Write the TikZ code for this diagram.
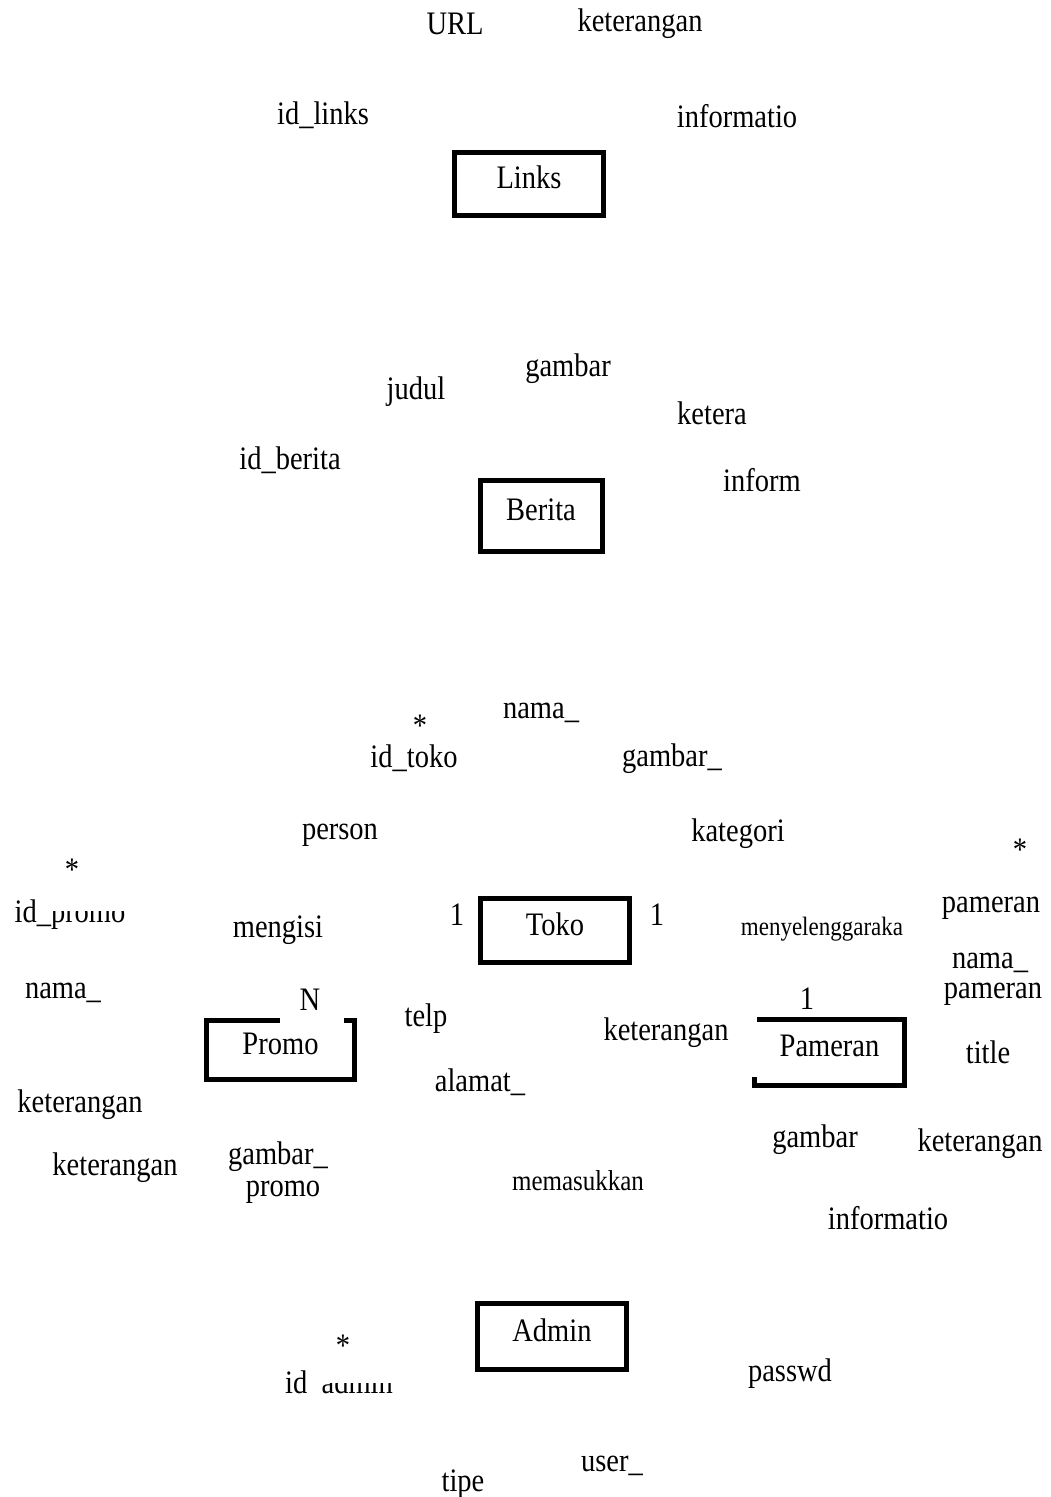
\documentclass[tikz,border=0pt]{standalone}
\usepackage{fontspec}
\usepackage{graphicx}
\setmainfont{Liberation Serif}
\newcommand{\vstr}[1]{\scalebox{1}[1.15]{#1}}
\begin{document}
\begin{tikzpicture}[x=1pt,y=-1pt,
  lbl/.style={anchor=base,inner sep=0pt,font=\fontsize{28.5}{34}\selectfont},
  smalllbl/.style={anchor=base,inner sep=0pt,font=\fontsize{23}{28}\selectfont},
  midlbl/.style={anchor=base,inner sep=0pt,font=\fontsize{25}{30}\selectfont},
  entity/.style={draw,line width=5pt,inner sep=0pt,font=\fontsize{28.5}{34}\selectfont,text height=19pt,text depth=10pt},
  openentity/.style={inner sep=0pt,font=\fontsize{28.5}{34}\selectfont,text height=19pt,text depth=10pt},
  border/.style={line width=5pt,line join=miter,line cap=butt}]
\useasboundingbox (0,0) rectangle (1051,1497);
\fill[white] (0,0) rectangle (1051,1497);

% ---------------- Links ----------------
\node[lbl] (url) at (455,34) {\vstr{URL}};
\node[lbl] (ketlinks) at (640,31) {\vstr{keterangan}};
\node[lbl] (idlinks) at (323,124) {\vstr{id\_links}};
\node[lbl] (infolinks) at (737,127) {\vstr{informatio}};
\node[entity,minimum width=149pt,minimum height=63pt] (links) at (529,184) {\vstr{Links}};

% ---------------- Berita ----------------
\node[lbl] (gambarberita) at (568,376) {\vstr{gambar}};
\node[lbl] (judul) at (416,399) {\vstr{judul}};
\node[lbl] (ketberita) at (712,424) {\vstr{ketera}};
\node[lbl] (idberita) at (290,469) {\vstr{id\_berita}};
\node[lbl] (infoberita) at (762,491) {\vstr{inform}};
\node[entity,minimum width=122pt,minimum height=71pt] (berita) at (541,516) {\vstr{Berita}};

% ---------------- Toko ----------------
\node[lbl] (namatoko) at (541,718) {\vstr{nama\_}};
\node[lbl] (startoko) at (420,736) {\vstr{*}};
\node[lbl] (idtoko) at (414,767) {\vstr{id\_toko}};
\node[lbl] (gambartoko) at (672,766) {\vstr{gambar\_}};
\node[lbl] (person) at (340,839) {\vstr{person}};
\node[lbl] (kategori) at (738,841) {\vstr{kategori}};
\node[lbl] (telp) at (426,1026) {\vstr{telp}};
\node[lbl] (alamat) at (480,1091) {\vstr{alamat\_}};
\node[entity,minimum width=149pt,minimum height=64pt] (toko) at (555,930.5) {\vstr{Toko}};
\node[lbl] (onea) at (457,925) {\vstr{1}};
\node[lbl] (oneb) at (657,925) {\vstr{1}};

% ---------------- relationships ----------------
\node[lbl] (mengisi) at (278,937) {\vstr{mengisi}};
\node[smalllbl] (menyel) at (822,935) {\vstr{menyelenggaraka}};
\node[midlbl] (memasukkan) at (578,1190) {\vstr{memasukkan}};

% ---------------- Promo ----------------
\node[lbl] (starpromo) at (72,880) {\vstr{*}};
\begin{scope}
  \clip (0,875) -- (48,875) -- (48,911) -- (140,911) -- (140,945) -- (0,945) -- cycle;
  \node[lbl] (idpromo) at (70,922) {\vstr{id\_promo}};
\end{scope}
\node[lbl] (namapromo) at (63,998) {\vstr{nama\_}};
\node[lbl] (ketpromoa) at (80,1112) {\vstr{keterangan}};
\node[lbl] (ketpromob) at (115,1175) {\vstr{keterangan}};
\node[lbl] (gambarpromo) at (278,1164) {\vstr{gambar\_}};
\node[lbl] (promotxt) at (283,1196) {\vstr{promo}};
\node[lbl] (n) at (310,1010) {\vstr{N}};
\node[openentity,minimum width=148pt,minimum height=59pt] (promo) at (280.5,1050) {\vstr{Promo}};
\draw[border] ([xshift=73.5pt]promo.north west) -- (promo.north west) -- (promo.south west)
  -- (promo.south east) -- (promo.north east) -- ([xshift=-10.5pt]promo.north east);

% ---------------- Pameran ----------------
\node[lbl] (starpam) at (1020,860) {\vstr{*}};
\node[lbl] (pameran) at (991,912) {\vstr{pameran}};
\node[lbl] (namapam) at (990,968) {\vstr{nama\_}};
\node[lbl] (pameranb) at (993,998) {\vstr{pameran}};
\node[lbl] (onec) at (807,1009) {\vstr{1}};
\node[lbl] (ketpama) at (666,1040) {\vstr{keterangan}};
\node[lbl] (title) at (988,1063) {\vstr{title}};
\node[lbl] (gambarpam) at (815,1147) {\vstr{gambar}};
\node[lbl] (ketpamb) at (980,1151) {\vstr{keterangan}};
\node[lbl] (infopam) at (888,1229) {\vstr{informatio}};
\node[openentity,minimum width=149pt,minimum height=65.5pt] (pam) at (829.5,1052.25) {\vstr{Pameran}};
\draw[border] ([yshift=8pt]pam.south west) -- (pam.south west) -- (pam.south east)
  -- (pam.north east) -- ([xshift=2pt]pam.north west);

% ---------------- Admin ----------------
\node[entity,minimum width=149pt,minimum height=66pt] (admin) at (552,1336.5) {\vstr{Admin}};
\node[lbl] (staradmin) at (343,1356) {\vstr{*}};
\begin{scope}
  \clip (270,1355) -- (307,1355) -- (307,1383) -- (400,1383) -- (400,1394) -- (270,1394) -- cycle;
  \node[lbl] (idadmin) at (339,1393) {\vstr{id\_admin}};
\end{scope}
\node[lbl] (passwd) at (790,1381) {\vstr{passwd}};
\node[lbl] (tipe) at (463,1491) {\vstr{tipe}};
\node[lbl] (user) at (612,1471) {\vstr{user\_}};
\end{tikzpicture}
\end{document}
